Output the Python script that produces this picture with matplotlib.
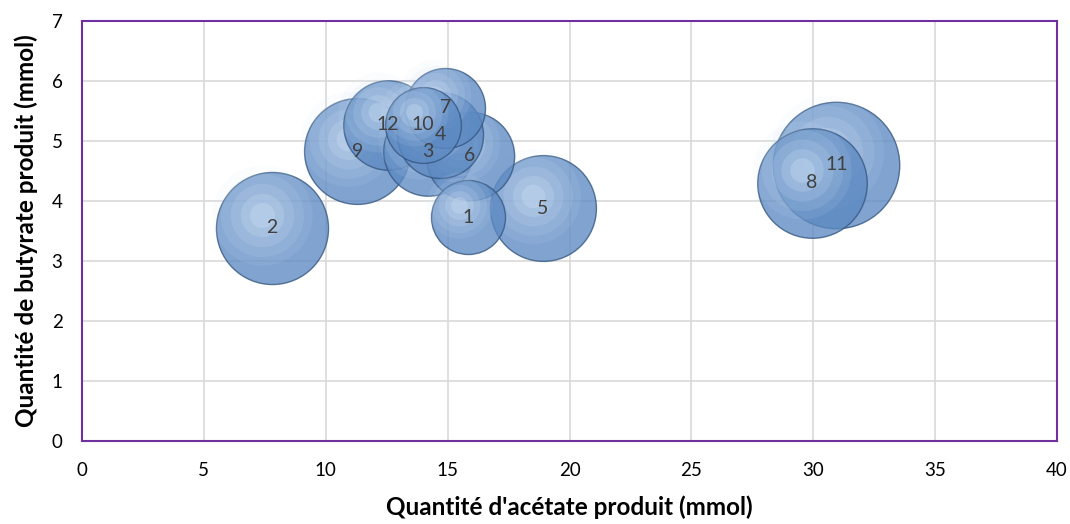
import matplotlib.pyplot as plt
from matplotlib.transforms import offset_copy
import numpy as np

# bubble data
labels = ["1", "2", "3", "4", "5", "6", "7", "8", "9", "10", "11", "12"]
acetate = [15.85, 7.8, 14.2, 14.7, 18.9, 15.9, 14.9, 29.95, 11.3, 14.0, 30.95, 12.55]
butyrate = [3.73, 3.55, 4.83, 5.1, 3.88, 4.75, 5.55, 4.3, 4.83, 5.27, 4.6, 5.27]
sizes = [13.7, 31.4, 20.0, 18.5, 28.0, 19.5, 16.0, 30.0, 28.0, 14.4, 40.0, 20.0]

xticks = [0, 5, 10, 15, 20, 25, 30, 35, 40]
yticks = [0, 1, 2, 3, 4, 5, 6, 7]

plt.rcParams['font.family'] = ['Lato', 'DejaVu Sans']

fig = plt.figure(figsize=(10.7, 5.24), dpi=100)
ax = fig.add_axes([0.0766, 0.1584, 0.9113, 0.8016])

# px radius^2/100 -> points^2 (1 px = 0.72 pt)
scale = 100 * (2 * 0.72) ** 2

order = np.argsort(sizes)[::-1]
hl = offset_copy(ax.transData, fig=fig, x=-7, y=9, units='points')
for i in order:
    s = sizes[i] * scale
    ax.scatter(acetate[i], butyrate[i], s=s, color='#5C89C2', alpha=0.78,
               edgecolors='#34557F', linewidths=1.0, zorder=3)
    for f, a in [(0.8, 0.10), (0.55, 0.13), (0.32, 0.16), (0.15, 0.22), (0.05, 0.3)]:
        ax.scatter(acetate[i], butyrate[i], s=s * f, color='#D2E4F7', alpha=a,
                   linewidths=0, zorder=3, transform=hl)
    ax.text(acetate[i], butyrate[i], labels[i], ha='center', va='center',
            fontsize=14, color='#404040', zorder=4)

ax.set_xlim(0, 40)
ax.set_ylim(0, 7)
ax.set_xticks(xticks)
ax.set_yticks(yticks)
ax.tick_params(axis='x', length=0, labelsize=13.5, colors='#000000', pad=15)
ax.tick_params(axis='y', length=0, labelsize=13.5, colors='#000000', pad=14)
ax.grid(True, color='#D9D9D9', linewidth=1.2, zorder=0)
ax.set_axisbelow(True)
for sp in ax.spines.values():
    sp.set_color('#7030A0')
    sp.set_linewidth(1.5)

ax.set_xlabel("Quantité d'acétate produit (mmol)", fontsize=17.5, fontweight='bold', labelpad=12)
ax.set_ylabel("Quantité de butyrate produit (mmol)", fontsize=17.5, fontweight='bold', labelpad=10)

fig.savefig("out.png", dpi=100)
